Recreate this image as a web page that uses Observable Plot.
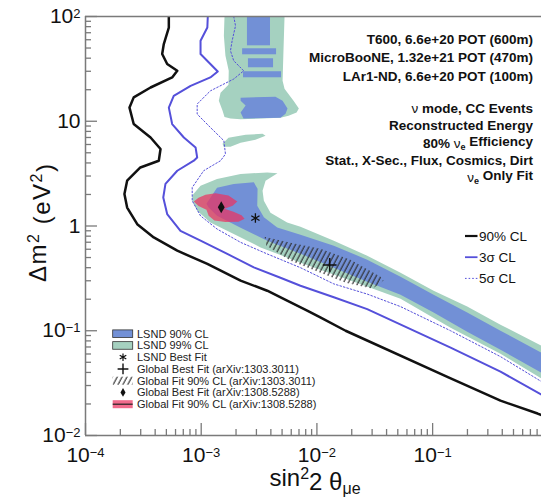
<!DOCTYPE html>
<html><head><meta charset="utf-8">
<script src="https://cdn.jsdelivr.net/npm/d3@7"></script>
<script src="https://cdn.jsdelivr.net/npm/@observablehq/plot@0.6"></script>
<style>body{margin:0;background:#fff;overflow:hidden} svg{display:block}</style>
</head><body><div id="chart"></div>
<script>
// ---------- DATA (sin^2 2theta, Δm^2 [eV^2]) ----------
const xTickValues = [1e-4, 1e-3, 1e-2, 1e-1];
const xTickLabels = ["10|−4", "10|−3", "10|−2", "10|−1"];
const yTickValues = [1e-2, 1e-1, 1, 10, 100];
const yTickLabels = ["10|−2", "10|−1", "1", "10", "10|2"];

// LSND 99% CL regions
const lsnd99Top = [[1.59e-3,100],[5.25e-3,100],[5.14e-3,47.1],[5.05e-3,24.3],[5.25e-3,20.4],[5.57e-3,18.7],[6.28e-3,15.7],[6.98e-3,13.2],[6.67e-3,12.1],[5.69e-3,11.3],[4.84e-3,10.8],[3.26e-3,10.6],[2.19e-3,10.45],[1.79e-3,10.6],[1.59e-3,11.0],[1.53e-3,12.6],[1.42e-3,15.7],[1.47e-3,18.7],[1.72e-3,22.3],[1.73e-3,30.3],[1.62e-3,42.2],[1.57e-3,65.5]];
const lsnd99Blob = [[1.53e-3,6.10],[1.72e-3,6.97],[2.42e-3,7.43],[3.39e-3,7.60],[3.60e-3,7.28],[2.94e-3,6.65],[2.19e-3,6.24],[1.79e-3,5.71],[1.56e-3,5.71]];
const lsnd99Main = [[8.36e-4,1.95],[9.87e-4,2.42],[1.37e-3,2.81],[2.19e-3,3.13],[3.72e-3,3.25],[4.56e-3,3.19],[3.60e-3,2.71],[3.39e-3,2.17],[3.48e-3,1.74],[3.97e-3,1.34],[5.53e-3,1.08],[7.21e-3,0.984],[1.40e-2,0.724],[2.72e-2,0.521],[5.28e-2,0.358],[0.102,0.241],[0.199,0.170],[0.386,0.114],[0.873,0.0721],[1,0.067],[1,0.0318],[0.873,0.0349],[0.386,0.0604],[0.143,0.107],[5.28e-2,0.202],[1.95e-2,0.301],[7.21e-3,0.447],[3.26e-3,0.625],[1.91e-3,0.839],[1.20e-3,1.08],[9.23e-4,1.40],[8.42e-4,1.71]];

// LSND 90% CL regions
const lsnd90Stripes = [
  {x1:2.51e-3, x2:3.97e-3, y1:52.5, y2:100},
  {x1:2.28e-3, x2:4.48e-3, y1:43.1, y2:49.2},
  {x1:2.56e-3, x2:4.22e-3, y1:32.4, y2:39.5},
  {x1:2.32e-3, x2:4.94e-3, y1:26.0, y2:29.7}
];
const lsnd90Block = [[2.19e-3,16.8],[4.38e-3,17.1],[5.05e-3,15.7],[5.57e-3,13.2],[5.36e-3,11.8],[4.84e-3,10.8],[2.32e-3,10.6],[2.19e-3,12.1],[2.42e-3,14.1],[2.19e-3,15.7]];
const lsnd90Main = [[1.11e-3,1.63],[1.37e-3,2.32],[1.91e-3,2.52],[2.85e-3,2.61],[3.07e-3,2.27],[3.05e-3,1.56],[3.48e-3,1.21],[4.54e-3,0.970],[7.21e-3,0.826],[1.40e-2,0.649],[2.72e-2,0.477],[5.28e-2,0.328],[0.102,0.221],[0.199,0.149],[0.386,0.100],[0.873,0.0618],[1,0.057],[1,0.0366],[0.873,0.0398],[0.386,0.0659],[0.199,0.098],[0.102,0.149],[5.28e-2,0.221],[2.72e-2,0.294],[1.40e-2,0.400],[7.21e-3,0.544],[3.72e-3,0.724],[2.19e-3,0.964],[1.37e-3,1.25],[1.16e-3,1.50]];

// Global fits
const globalFit1303 = [[3.52e-3,0.791],[5.92e-3,0.693],[1.07e-2,0.607],[1.95e-2,0.477],[3.55e-2,0.328],[3.77e-2,0.301],[3.03e-2,0.252],[1.77e-2,0.288],[1.07e-2,0.358],[5.92e-3,0.467],[3.66e-3,0.649]];
const globalFit1308 = [[8.63e-4,1.71],[9.48e-4,1.86],[1.09e-3,1.99],[1.33e-3,2.05],[1.72e-3,1.95],[2.05e-3,1.71],[1.87e-3,1.56],[1.59e-3,1.46],[1.90e-3,1.37],[2.23e-3,1.27],[2.37e-3,1.17],[2.10e-3,1.10],[1.62e-3,1.09],[1.30e-3,1.13],[1.16e-3,1.25],[1.11e-3,1.43],[9.48e-4,1.55]];
const lsndBestFit = [[2.94e-3, 1.19]];
const globalBest1303 = [[1.29e-2, 0.425]];
const globalBest1308 = [[1.49e-3, 1.51]];

// Sensitivity contours
const cl90Curve = [[5.25e-4,100],[5.25e-4,78.5],[4.75e-4,54.6],[4.6e-4,43.8],[5.08e-4,35.2],[6.21e-4,30.3],[5.61e-4,26.2],[3.65e-4,21.0],[2.61e-4,16.9],[2.40e-4,13.5],[2.61e-4,9.4],[3.65e-4,7.0],[4.45e-4,5.43],[4.3e-4,4.2],[2.98e-4,3.62],[2.29e-4,2.71],[2.17e-4,2.02],[2.29e-4,1.50],[2.80e-4,1.04],[3.89e-4,0.778],[6.21e-4,0.581],[1.13e-3,0.434],[2.19e-3,0.301],[3.72e-3,0.241],[5.53e-3,0.194],[8.24e-3,0.156],[1.07e-2,0.134],[1.77e-2,0.100],[0.137,0.0359],[0.386,0.0215],[0.807,0.0162],[1,0.0147]];
const sigma3Curve = [[1.14e-3,100],[1.13e-3,78.5],[9.87e-4,58.6],[9.87e-4,43.8],[1.20e-3,35.2],[1.39e-3,29.9],[1.20e-3,26.2],[8.1e-4,21.8],[5.79e-4,17.5],[5.25e-4,13.5],[5.61e-4,9.4],[7.08e-4,7.0],[8.94e-4,5.62],[9.23e-4,4.51],[8.63e-4,4.2],[6.21e-4,3.37],[4.91e-4,2.52],[4.70e-4,1.87],[5.08e-4,1.30],[6.62e-4,0.90],[9.87e-4,0.724],[1.68e-3,0.541],[2.85e-3,0.403],[4.84e-3,0.321],[7.21e-3,0.269],[1.40e-2,0.209],[2.72e-2,0.161],[0.143,0.069],[0.386,0.0407],[0.873,0.0245],[1,0.0225]];
const sigma5Curve = [[1.91e-3,100],[1.98e-3,81.5],[1.85e-3,58.6],[1.79e-3,47.1],[1.91e-3,37.8],[2.33e-3,30.3],[1.91e-3,25.3],[1.20e-3,19.5],[9.23e-4,14.6],[9.23e-4,11.7],[1.20e-3,8.73],[1.57e-3,6.52],[1.62e-3,4.86],[1.47e-3,4.2],[1.05e-3,3.37],[8.36e-4,2.33],[8.36e-4,1.74],[9.87e-4,1.25],[1.37e-3,0.936],[2.19e-3,0.698],[3.72e-3,0.541],[7.21e-3,0.400],[1.40e-2,0.280],[2.72e-2,0.224],[5.28e-2,0.170],[0.143,0.100],[0.386,0.0566],[0.873,0.0327],[1,0.0298]];

// Text
const configLines = ["T600, 6.6e+20 POT (600m)", "MicroBooNE, 1.32e+21 POT (470m)", "LAr1-ND, 6.6e+20 POT (100m)"];
const analysisLines = [
  [["ν","g"],[" mode, CC Events","b"]],
  [["Reconstructed Energy","b"]],
  [["80% ","b"],["ν","g"],["e","s"],[" Efficiency","b"]],
  [["Stat., X-Sec., Flux, Cosmics, Dirt","b"]],
  [["ν","g"],["e","s"],[" Only Fit","b"]]
];
const lineLegend = ["90% CL", "3σ CL", "5σ CL"];
const regionLegend = ["LSND 90% CL", "LSND 99% CL", "LSND Best Fit", "Global Best Fit (arXiv:1303.3011)", "Global Fit 90% CL (arXiv:1303.3011)", "Global Best Fit (arXiv:1308.5288)", "Global Fit 90% CL (arXiv:1308.5288)"];

// ---------- STYLE ----------
const FONT = "'Liberation Sans', Arial, Helvetica, sans-serif";
const C_BLUE = "#7290d6", C_GREEN = "#a5d1c0", C_LINE = "#5550da", C_RED = "rgb(235,50,95)", C_AX = "#7a7a7a";

const xMinor = [], yMinor = [];
for (const d of [-4,-3,-2,-1]) for (let k = 2; k <= 9; k++) { const v = k * Math.pow(10, d); if (v < 0.873) xMinor.push(v); }
for (const d of [-2,-1,0,1]) for (let k = 2; k <= 9; k++) yMinor.push(k * Math.pow(10, d));

const X = d => d[0], Y = d => d[1];
const poly = (data, fill, extra = {}) => Plot.line(data, {x: X, y: Y, fill, stroke: "none", clip: true, ...extra});
const curve = (data, extra) => Plot.line(data, {x: X, y: Y, fill: "none", clip: true, ...extra});

const innerH = 498 - 16 - 63, innerW = 541 - 85;

const chart = Plot.plot({
  width: 541, height: 498,
  marginTop: 16, marginRight: 0, marginBottom: 63, marginLeft: 85,
  style: {fontFamily: FONT, color: "#111", background: "#fff"},
  x: {type: "log", domain: [1e-4, 0.873]},
  y: {type: "log", domain: [1e-2, 1e2]},
  marks: [
    poly(lsnd99Top, C_GREEN),
    poly(lsnd99Blob, C_GREEN),
    poly(lsnd99Main, C_GREEN),
    Plot.rect(lsnd90Stripes, {x1: "x1", x2: "x2", y1: "y1", y2: "y2", fill: C_BLUE, clip: true}),
    poly(lsnd90Block, C_BLUE),
    poly(lsnd90Main, C_BLUE),
    poly(globalFit1303, "url(#hatch)"),
    poly(globalFit1308, C_RED, {fillOpacity: 0.72}),
    curve(sigma5Curve, {stroke: C_LINE, strokeWidth: 1, strokeDasharray: "1.6,2"}),
    curve(sigma3Curve, {stroke: C_LINE, strokeWidth: 2}),
    curve(cl90Curve, {stroke: "#111", strokeWidth: 2.5}),
    Plot.dot(lsndBestFit, {x: X, y: Y, symbol: "asterisk", stroke: "#111", strokeWidth: 1.3, r: 4.5}),
    Plot.dot(globalBest1303, {x: X, y: Y, symbol: "plus", stroke: "#111", strokeWidth: 1.5, r: 4.5}),
    Plot.dot(globalBest1308, {x: X, y: Y, symbol: "diamond", fill: "#111", stroke: "none", r: 3.6}),
    // frame and ticks (ROOT style, inward)
    Plot.ruleX(xTickValues, {x: d => d, insetTop: innerH - 12, stroke: C_AX, strokeWidth: 1.3}),
    Plot.ruleX(xMinor, {x: d => d, insetTop: innerH - 6, stroke: C_AX, strokeWidth: 1.3}),
    Plot.ruleY(yTickValues, {y: d => d, insetRight: innerW - 12, stroke: C_AX, strokeWidth: 1.3}),
    Plot.ruleY(yMinor, {y: d => d, insetRight: innerW - 6, stroke: C_AX, strokeWidth: 1.3}),
    Plot.ruleX([1e-4], {x: d => d, stroke: C_AX, strokeWidth: 1.5}),
    Plot.ruleY([1e-2, 1e2], {y: d => d, stroke: C_AX, strokeWidth: 1.5}),
    Plot.axisX(xTickValues, {tickSize: 0, tickPadding: 12, fontSize: 21, label: null,
      tickFormat: d => xTickLabels[xTickValues.indexOf(d)]}),
    Plot.axisY(yTickValues, {tickSize: 0, tickPadding: 5, fontSize: 21, label: null,
      tickFormat: d => yTickLabels[yTickValues.indexOf(d)]})
  ]
});
document.getElementById("chart").appendChild(chart);

// ---------- POST: superscripts, hatch pattern, texts, legends ----------
const svg = d3.select(chart);
const defs = svg.insert("defs", ":first-child");
const pat = defs.append("pattern").attr("id", "hatch").attr("patternUnits", "userSpaceOnUse")
  .attr("width", 4.3).attr("height", 12).attr("patternTransform", "rotate(28)");
pat.append("line").attr("x1", 1).attr("y1", -1).attr("x2", 1).attr("y2", 13).attr("stroke", "#2a2a2a").attr("stroke-width", 1.1);

svg.selectAll('g[aria-label="x-axis tick label"] text, g[aria-label="y-axis tick label"] text').each(function () {
  const t = d3.select(this);
  const parts = t.text().split("|");
  if (parts.length === 2) {
    t.text(parts[0]);
    t.append("tspan").attr("dy", "-0.42em").attr("font-size", 13).text(parts[1]);
  }
});

// axis titles
const xt = svg.append("text").attr("x", 315).attr("y", 486).attr("text-anchor", "middle")
  .attr("font-family", FONT).attr("font-size", 24).attr("fill", "#111");
xt.append("tspan").text("sin");
xt.append("tspan").attr("dy", "-0.45em").attr("font-size", 16).text("2");
xt.append("tspan").attr("dy", "0.45em").text("2 θ");
xt.append("tspan").attr("dy", "0.3em").attr("font-size", 16).text("μe");

const yt = svg.append("text").attr("transform", "translate(46,223) rotate(-90)").attr("text-anchor", "middle")
  .attr("font-family", FONT).attr("font-size", 24).attr("fill", "#111").attr("textLength", 118).attr("lengthAdjust", "spacing");
yt.append("tspan").text("Δm");
yt.append("tspan").attr("dy", "-0.45em").attr("font-size", 16).text("2");
yt.append("tspan").attr("dy", "0.45em").text(" (eV");
yt.append("tspan").attr("dy", "-0.45em").attr("font-size", 16).text("2");
yt.append("tspan").attr("dy", "0.45em").text(")");

// top-right configuration text
const tr = svg.append("g").attr("font-family", FONT).attr("font-size", 13.5).attr("fill", "#111").attr("text-anchor", "end");
configLines.forEach((s, i) => tr.append("text").attr("x", 533).attr("y", 44 + i * 18.4).attr("font-weight", "bold").text(s));
analysisLines.forEach((segs, i) => {
  const t = tr.append("text").attr("x", 533).attr("y", 113.3 + i * 17.1);
  let sub = false;
  segs.forEach(([s, k]) => {
    const sp = t.append("tspan").text(s);
    if (k === "b") sp.attr("font-weight", "bold");
    if (k === "g") sp.attr("font-weight", "normal");
    if (k === "s") { sp.attr("font-weight", "bold").attr("font-size", 9).attr("dy", "0.3em"); sub = true; }
    else if (sub) { sp.attr("dy", "-0.3em"); sub = false; }
  });
});

// line legend
const ll = svg.append("g").attr("font-family", FONT).attr("font-size", 13.5).attr("fill", "#111").attr("text-anchor", "start");
const llStyles = [{stroke: "#111", w: 2.2, dash: null}, {stroke: C_LINE, w: 1.8, dash: null}, {stroke: C_LINE, w: 1, dash: "1.6,2"}];
lineLegend.forEach((s, i) => {
  const yc = 236 + i * 21.2;
  const st = llStyles[i];
  const ln = ll.append("line").attr("x1", 465).attr("x2", 477.5).attr("y1", yc).attr("y2", yc)
    .attr("stroke", st.stroke).attr("stroke-width", st.w);
  if (st.dash) ln.attr("stroke-dasharray", st.dash);
  ll.append("text").attr("x", 479).attr("y", yc + 4.8).text(s);
});

// region legend (lower left)
const lg = svg.append("g").attr("font-family", FONT).attr("font-size", 11).attr("fill", "#222").attr("text-anchor", "start");
const bx = 112.7, bw = 20, mx = 123;
regionLegend.forEach((s, i) => {
  const yc = 333.7 + i * 11.75;
  if (i === 0 || i === 1) {
    lg.append("rect").attr("x", bx).attr("y", yc - 3.8).attr("width", bw).attr("height", 7.6)
      .attr("fill", i === 0 ? C_BLUE : C_GREEN).attr("stroke", "#333").attr("stroke-width", 0.8);
  } else if (i === 2) {
    lg.append("path").attr("transform", `translate(${mx},${yc})`).attr("d", d3.symbol(d3.symbolAsterisk, 40)()).attr("fill", "none").attr("stroke", "#111").attr("stroke-width", 1.2);
  } else if (i === 3) {
    lg.append("path").attr("transform", `translate(${mx},${yc})`).attr("d", d3.symbol(d3.symbolPlus, 40)()).attr("fill", "none").attr("stroke", "#111").attr("stroke-width", 1.4);
  } else if (i === 4) {
    lg.append("rect").attr("x", bx).attr("y", yc - 4).attr("width", bw).attr("height", 8).attr("fill", "url(#hatch)");
  } else if (i === 5) {
    lg.append("path").attr("transform", `translate(${mx},${yc})`).attr("d", d3.symbol(d3.symbolDiamond, 22)()).attr("fill", "#111");
  } else {
    lg.append("rect").attr("x", bx).attr("y", yc - 4).attr("width", bw).attr("height", 8)
      .attr("fill", C_RED).attr("fill-opacity", 0.72);
    lg.append("line").attr("x1", bx).attr("x2", bx + bw).attr("y1", yc).attr("y2", yc).attr("stroke", "#222").attr("stroke-width", 1.2);
  }
  lg.append("text").attr("x", 137).attr("y", yc + 4).text(s);
});
</script></body></html>
